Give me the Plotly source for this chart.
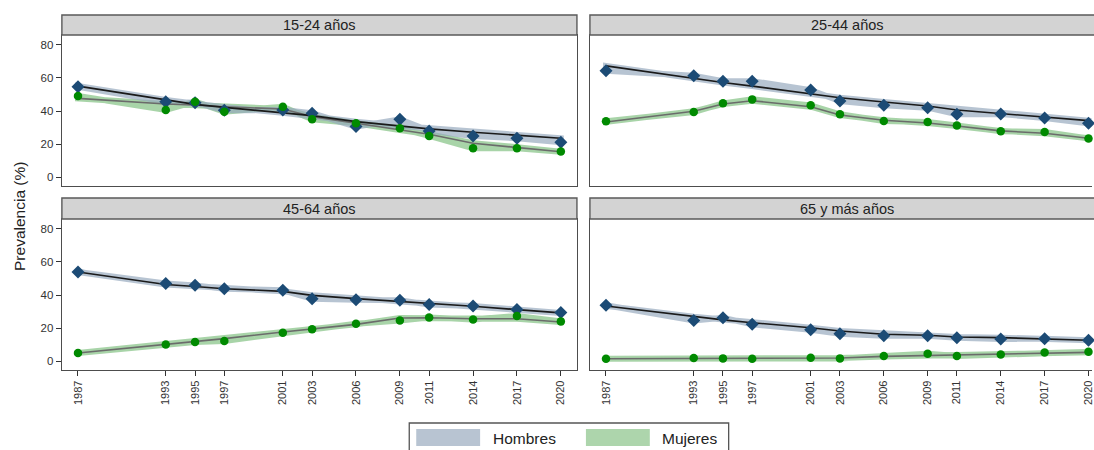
import plotly.graph_objects as go

# Survey years
years = [1987, 1993, 1995, 1997, 2001, 2003, 2006, 2009, 2011, 2014, 2017, 2020]
panels = ["15-24 años", "25-44 años", "45-64 años", "65 y más años"]

# Observed prevalence (%) by age group
hombres_obs = {
    "15-24 años": [54.6, 45.6, 45.0, 40.5, 40.6, 38.6, 30.6, 35.0, 28.0, 25.0, 23.6, 21.2],
    "25-44 años": [64.2, 61.2, 58.0, 58.0, 52.6, 46.0, 43.4, 42.0, 38.0, 38.2, 35.8, 32.6],
    "45-64 años": [53.9, 46.9, 45.8, 43.8, 42.8, 37.8, 37.2, 36.8, 34.2, 33.4, 31.2, 29.4],
    "65 y más años": [33.8, 24.7, 26.3, 22.3, 19.1, 16.7, 15.5, 15.5, 14.3, 13.5, 13.7, 12.7],
}
mujeres_obs = {
    "15-24 años": [49.0, 40.6, 45.6, 39.6, 42.6, 35.0, 32.6, 29.6, 25.0, 17.6, 17.6, 15.6],
    "25-44 años": [33.8, 39.4, 44.6, 47.0, 43.4, 38.0, 34.0, 33.4, 31.2, 27.8, 27.4, 23.4],
    "45-64 años": [5.0, 10.2, 11.7, 12.3, 17.3, 19.3, 22.7, 24.7, 26.5, 25.3, 27.3, 24.1],
    "65 y más años": [1.6, 2.0, 1.8, 1.6, 2.2, 1.8, 3.2, 4.6, 3.2, 4.2, 5.4, 5.8],
}

# Smoothed trend (%) by age group
hombres_fit = {
    "15-24 años": [55.0, 46.6, 44.0, 42.2, 39.0, 37.2, 33.6, 31.0, 29.2, 27.2, 25.6, 23.6],
    "25-44 años": [67.2, 59.6, 57.2, 55.0, 50.6, 48.0, 45.4, 43.0, 40.6, 38.6, 36.6, 34.2],
    "45-64 años": [53.9, 46.3, 45.1, 43.8, 42.2, 39.8, 37.8, 36.2, 34.8, 33.2, 31.2, 29.2],
    "65 y más años": [33.4, 26.9, 25.0, 23.3, 20.3, 18.3, 16.3, 15.7, 14.7, 14.3, 13.5, 12.7],
}
mujeres_fit = {
    "15-24 años": [47.6, 44.2, 43.6, 42.6, 41.2, 36.6, 32.6, 28.6, 26.0, 20.6, 18.2, 15.4],
    "25-44 años": [33.4, 39.8, 44.2, 46.2, 42.6, 37.6, 34.4, 32.8, 31.0, 28.0, 26.6, 23.6],
    "45-64 años": [5.0, 10.2, 12.3, 13.7, 17.7, 19.7, 22.3, 26.1, 26.3, 25.7, 25.7, 23.7],
    "65 y más años": [1.6, 1.8, 1.8, 1.8, 2.0, 2.0, 3.0, 3.6, 3.6, 4.2, 5.0, 5.4],
}

W, H = 1094, 450
BAND_H = "rgb(150,169,190)"
BAND_M = "rgb(128,192,128)"
SWATCH_H = "rgb(184,196,210)"
SWATCH_M = "rgb(173,213,172)"
MARK_H = "#1c4b75"
MARK_M = "#008a00"
FRAME = "#4d4d4d"
FONT = "Liberation Sans, Arial"

# Panel boxes in pixels: (left, right, top, bottom), header sits above the top edge
boxes = [(62, 578, 35, 186), (591, 1094, 35, 186), (62, 578, 219, 370), (591, 1094, 219, 370)]
head_tops = [15, 15, 198, 198]
xranges = [[1985.9, 2021.1], [1985.9, 2020.24], [1985.9, 2021.1], [1985.9, 2020.24]]
yrange = [-5.2, 85.8]

fig = go.Figure()

for i, name in enumerate(panels):
    ax = "" if i == 0 else str(i + 1)
    xa, ya = "x" + ax, "y" + ax
    bands = [
        (mujeres_obs[name], mujeres_fit[name], BAND_M),
        (hombres_obs[name], hombres_fit[name], BAND_H),
    ]
    # Shaded band between observed values and the trend
    for obs, fit, col in bands:
        fig.add_trace(go.Scatter(
            x=years + years[::-1] + years[:1], y=obs + fit[::-1] + obs[:1],
            xaxis=xa, yaxis=ya, mode="lines", fill="toself", fillcolor=col,
            line=dict(color=col, width=6, shape="linear"), opacity=0.68,
            hoverinfo="skip", showlegend=False,
        ))
    # Trend lines
    fig.add_trace(go.Scatter(
        x=years, y=mujeres_fit[name], xaxis=xa, yaxis=ya, mode="lines",
        line=dict(color="#6b6b6b", width=1.6), showlegend=False, hoverinfo="skip",
    ))
    fig.add_trace(go.Scatter(
        x=years, y=hombres_fit[name], xaxis=xa, yaxis=ya, mode="lines",
        line=dict(color="#1a1a1a", width=1.6), showlegend=False, hoverinfo="skip",
    ))
    # Observed points
    fig.add_trace(go.Scatter(
        x=years, y=hombres_obs[name], xaxis=xa, yaxis=ya, mode="markers",
        marker=dict(symbol="diamond", size=10, color=MARK_H), showlegend=False,
        cliponaxis=False, name="Hombres",
    ))
    fig.add_trace(go.Scatter(
        x=years, y=mujeres_obs[name], xaxis=xa, yaxis=ya, mode="markers",
        marker=dict(symbol="circle", size=8.5, color=MARK_M), showlegend=False,
        cliponaxis=False, name="Mujeres",
    ))

    l, r, t, b = boxes[i]
    bottom_row = i >= 2
    left_col = i % 2 == 0
    fig.layout["xaxis" + ax] = dict(
        domain=[l / W, r / W], range=xranges[i], anchor=ya,
        tickmode="array", tickvals=years if bottom_row else [],
        ticktext=[str(y) for y in years] if bottom_row else [],
        ticks="outside" if bottom_row else "", ticklen=5, tickcolor="#333",
        tickangle=-90, ticklabeloverflow="allow",
        tickfont=dict(family=FONT, size=11, color="#333"),
        showgrid=False, zeroline=False, showline=True, mirror=True,
        linecolor=FRAME, linewidth=1.4,
    )
    fig.layout["yaxis" + ax] = dict(
        domain=[1 - b / H, 1 - t / H], range=yrange, anchor=xa,
        tickmode="array", tickvals=[0, 20, 40, 60, 80] if left_col else [],
        ticks="outside" if left_col else "", ticklen=5, tickcolor="#333",
        tickfont=dict(family=FONT, size=11.5, color="#333"),
        showgrid=False, zeroline=False, showline=True, mirror=left_col,
        linecolor=FRAME, linewidth=1.4,
    )

    # Strip header
    ht = head_tops[i]
    fig.add_shape(type="rect", xref="paper", yref="paper",
                  x0=l / W, x1=(r + 20 if r >= W else r) / W, y0=1 - t / H, y1=1 - ht / H,
                  fillcolor="#d3d3d3", line=dict(color="#5a5a5a", width=1.4), layer="above")
    cx = (l + (r if r < W else 1107)) / 2
    fig.add_annotation(x=cx / W, y=1 - (ht + t) / 2 / H, xref="paper", yref="paper",
                       xanchor="center", yanchor="middle",
                       text=name, showarrow=False,
                       font=dict(family=FONT, size=14.5, color="#222"))

# Shared axis title
fig.add_annotation(x=19 / W, y=1 - 216 / H, xref="paper", yref="paper",
                   xanchor="center", yanchor="middle",
                   text="Prevalencia (%)", textangle=-90, showarrow=False,
                   font=dict(family=FONT, size=15.5, color="#222"))

# Legend box
fig.add_shape(type="rect", xref="paper", yref="paper",
              x0=410 / W, x1=730 / W, y0=-0.05, y1=1 - 423 / H,
              fillcolor="white", line=dict(color="#555", width=1.3))
for (x0, x1, tx, label, col) in [(417, 481, 492, "Hombres", SWATCH_H),
                                 (587, 651, 661, "Mujeres", SWATCH_M)]:
    fig.add_shape(type="rect", xref="paper", yref="paper",
                  x0=x0 / W, x1=x1 / W, y0=1 - 446 / H, y1=1 - 429 / H,
                  fillcolor=col, line=dict(width=0))
    fig.add_annotation(x=tx / W, y=1 - 438 / H, xref="paper", yref="paper",
                       text=label, showarrow=False, xanchor="left", yanchor="middle",
                       font=dict(family=FONT, size=15.5, color="#222"))

fig.update_layout(
    width=W, height=H, margin=dict(l=0, r=0, t=0, b=0),
    paper_bgcolor="white", plot_bgcolor="white", showlegend=False,
)

fig.write_html("out.html")
